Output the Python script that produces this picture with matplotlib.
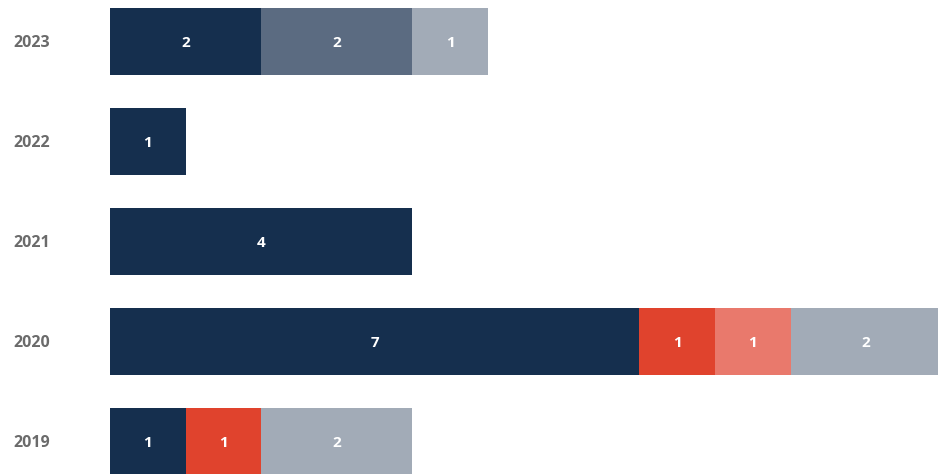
import matplotlib
matplotlib.use("Agg")
import matplotlib.pyplot as plt
import matplotlib.transforms as mtransforms
import numpy as np

years = ["2019", "2020", "2021", "2022", "2023"]
series_names = ["Series A", "Series B", "Series C", "Series D", "Series E"]
series_a = [1, 7, 4, 1, 2]   # navy
series_b = [0, 0, 0, 0, 2]   # slate
series_c = [1, 1, 0, 0, 0]   # red
series_d = [0, 1, 0, 0, 0]   # salmon
series_e = [2, 2, 0, 0, 1]   # light grey-blue
colors = ["#152f4e", "#5b6b81", "#e0432d", "#e9796c", "#a2abb7"]

plt.rcParams['font.family'] = ['Open Sans', 'DejaVu Sans']

FS = 11
FS_Y = 11.5

fig = plt.figure(figsize=(9.38, 4.74), dpi=100)
ax = fig.add_axes([110 / 938, 0, 828 / 938, 1])

ax.set_xlim(0, 10.95)
ax.set_ylim(-0.327, 4.413)
ax.axis("off")

data_off = mtransforms.offset_copy(ax.transData, fig=fig, x=0, y=-0.714 * FS / 2, units="points")

ypos = np.arange(len(years))
left = np.zeros(len(years))
for vals, col in zip([series_a, series_b, series_c, series_d, series_e], colors):
    vals = np.array(vals, dtype=float)
    ax.barh(ypos, vals, left=left, height=0.667, color=col, linewidth=0)
    for y, v, l in zip(ypos, vals, left):
        if v > 0:
            ax.text(l + v / 2, y, f"{int(v)}", ha="center", va="baseline",
                    color="white", fontsize=FS, fontweight="bold",
                    transform=data_off)
    left += vals

blend = mtransforms.blended_transform_factory(fig.transFigure, ax.transData)
blend_off = mtransforms.offset_copy(blend, fig=fig, x=0, y=-0.714 * FS_Y / 2, units="points")
for y, yr in zip(ypos, years):
    fig.text(13 / 938, y, yr, ha="left", va="baseline", color="#6b6b6b",
             fontsize=FS_Y, fontweight="bold", transform=blend_off)

fig.savefig("out.png", dpi=100)
